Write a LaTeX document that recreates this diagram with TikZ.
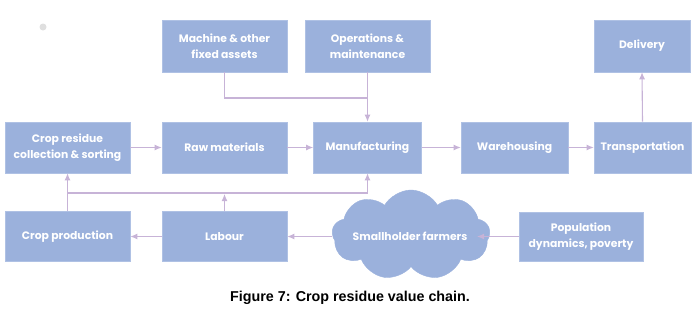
\documentclass[tikz,border=0pt]{standalone}
\usepackage{fontspec}
\setmainfont{Poppins}
\newfontfamily\capfont{Liberation Sans}
\usetikzlibrary{shapes.symbols,arrows.meta}
\definecolor{boxblue}{HTML}{9BB1DC}
\definecolor{boxedge}{HTML}{AFC1E4}
\definecolor{arrowc}{HTML}{C7B3D7}
\tikzset{
  boxfont/.style={font=\fontsize{10.8}{16}\selectfont\bfseries},
  box/.style={rectangle, fill=boxblue, draw=boxedge, line width=0.6pt, text=white,
    boxfont, align=center, inner sep=0pt},
  conn/.style={draw=arrowc, line width=1.1pt},
  arr/.style={conn, -{Latex[length=7pt,width=6pt]}},
}
\begin{document}
\begin{tikzpicture}[x=1pt,y=-1pt]
\useasboundingbox (0,0) rectangle (700,316);
\fill[gray!25] (43,27) circle (3.5);
% top row
\node[box, minimum width=125pt, minimum height=52pt] (mach) at (224.5,46) {Machine \& other\\fixed assets};
\node[box, minimum width=125pt, minimum height=52pt] (ops) at (367.5,46) {Operations \&\\maintenance};
\node[box, minimum width=96pt, minimum height=52pt] (deliv) at (642,46) {Delivery};
% middle row
\node[box, minimum width=125pt, minimum height=51pt] (crs) at (67.5,147.5) {Crop residue\\collection \& sorting};
\node[box, minimum width=125pt, minimum height=51pt] (raw) at (224.5,147.5) {Raw materials};
\node[box, minimum width=108pt, minimum height=51pt] (man) at (367.5,147.5) {Manufacturing};
\node[box, minimum width=107pt, minimum height=51pt] (ware) at (514.5,147.5) {Warehousing};
\node[box, minimum width=97pt, minimum height=51pt] (trans) at (642.5,147.5) {Transportation};
% bottom row
\node[box, minimum width=125pt, minimum height=50pt] (cp) at (67.5,236.5) {Crop production};
\node[box, minimum width=125pt, minimum height=50pt] (lab) at (224.5,236.5) {Labour};
\node[cloud, cloud puffs=9, cloud puff arc=120, aspect=1.8, fill=boxblue, draw=boxblue,
  minimum width=158pt, minimum height=90pt, inner sep=0pt] (cloud) at (411,235) {};
\node[text=white, boxfont] (cloudtxt) at (410,236) {Smallholder farmers};
\node[box, minimum width=124pt, minimum height=49pt] (pop) at (581,236.5) {Population\\dynamics, poverty};
% junction coordinates
\coordinate (jt) at (224.5,98);
\coordinate (jb) at (67.5,193);
% connectors
\draw[conn] (mach.south) -- (jt) -- (jt -| ops.south);
\draw[arr] (ops.south) -- (man.north);
\draw[arr] (crs) -- (raw);
\draw[arr] (raw) -- (man);
\draw[arr] (man) -- (ware);
\draw[arr] (ware) -- (trans);
\draw[arr] (trans.north) -- (deliv.south);
\draw[arr] (cp.north) -- (crs.south);
\draw[conn] (jb) -- (jb -| man.south);
\draw[arr] (jb -| man.south) -- (man.south);
\draw[arr] (lab.north) -- (lab.north |- 0,194);
\draw[arr] (lab.west) -- (cp.east);
\draw[arr] (cloud.west |- lab.west) -- (lab.east);
\draw[arr] (pop.west) -- (477,236.5);
% caption
\node[font=\capfont\fontsize{14.3}{16}\selectfont\bfseries] (cap) at (350,298) {Figure 7: Crop residue value chain.};
\end{tikzpicture}
\end{document}
